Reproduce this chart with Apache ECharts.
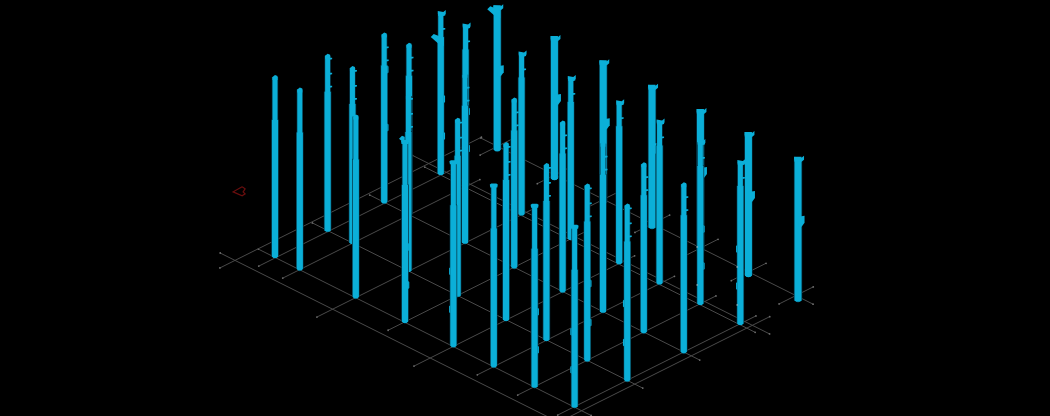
<!DOCTYPE html>
<html>
<head>
<meta charset="utf-8">
<style>html,body{margin:0;padding:0;background:#000}#c{width:1050px;height:416px}</style>
<script src="https://cdn.jsdelivr.net/npm/echarts@6/dist/echarts.min.js"></script>
</head>
<body>
<div id="c"></div>
<script>
// Ground positions of the column rows (logical plan units)
const uRows = [0, 0.94, 1.95, 2.96, 3.89];
const vStations = [0, 0.62, 2.02, 3.25, 4.46, 5.47, 6.49, 7.49];
const vStationsBack = [0.11, 0.71, 1.54, 2.76, 3.98, 5.19, 6.39, 7.63];
// Column heights (one list per row, one value per station)
const heightsU0 = [18.3, 18.3, 18.4, 18.3, 18.7, 18.4, 18.4, 18.3];
const heightsU1 = [17.8, 17.8, 17.8, 17.9, 17.9, 17.8, 17.8, 17.8];
const heightsU2 = [17.1, 17.3, 17.1, 17.1, 17.2, 17.1, 17.1, 17.1];
const heightsU3 = [16.4, 16.4, 16.4, 16.4, 16.4, 16.5, 16.5, 16.5];
const heightsU4 = [14.6, null, 14.4, 14.4, 14.4, 14.4, 14.5, 14.5];
// Length of the slim upper part of a column, per row
const slimTop = [4.5, 3.8, 3.3, 2.6, 0];
// Small tabs below the column head, per row
const tabDrops = [[], [0.5, 2.0, 3.3], [1.5, 2.8], [0.4, 1.8], []];
// Bumps on the shaft, per row (height above ground)
const bumpHeights = [[7.6, 3.8], [7.8, 3.9], [13.4, 7.6], [7.6, 3.9], [8.0]];
const bumpedColumns = ['0,3', '0,4', '0,6', '0,7', '1,6', '1,7', '2,0', '3,0', '3,1', '3,6', '3,7', '4,0', '4,2', '4,3', '4,4', '4,5', '4,6', '4,7'];
const dotHeights = [[], [], [], [5.8, 2.0], []];
const wingDrops = { '3,0': 2.4, '4,0': 0.2, '2,1': 9.4 };
const leftBumps = ['0,4', '0,7', '1,7', '3,7'];
// Ground lines: [fixed, from, to]
const linesAlongV = [
  [-0.40, -0.81, 8.4], [0.01, -0.43, 7.89], [0.96, -0.41, 7.85], [1.97, -0.39, 7.86],
  [2.96, -0.40, 7.86], [3.06, -0.85, 8.08], [3.98, -0.43, 7.88]
];
const linesAlongU = [
  [-0.44, -0.67, 4.0], [0, -0.29, 3.23], [0.6, -0.29, 3.23], [2.0, -0.68, 3.25],
  [3.22, -0.28, 3.25], [4.44, -0.69, 3.25], [5.45, -0.28, 3.24], [6.46, -0.28, 3.26],
  [7.46, -0.28, 3.26], [7.65, -0.68, 3.37],
  [-0.01, 3.67, 4.29], [1.42, 3.67, 4.29], [2.64, 3.67, 4.29], [3.86, 3.67, 4.29],
  [5.07, 3.67, 4.29], [6.27, 3.67, 4.29], [7.45, 3.68, 4.29]
];
const markerSpot = [0.87, -2.09];

const heights = [heightsU0, heightsU1, heightsU2, heightsU3, heightsU4];
const fill = '#0bafd8', edge = '#062f3e', lineCol = '#4a4a4a';

function project(u, v, z) {
  return [275 + 56 * u + 40 * v, 258 - 28 * u + 20 * v - (z || 0) * 10];
}

const columns = [];
heights.forEach(function (row, ui) {
  row.forEach(function (h, vi) {
    if (h == null) return;
    const v = (ui === 4 ? vStationsBack : vStations)[vi];
    columns.push([uRows[ui], v, h, ui, vi]);
  });
});
columns.sort(function (a, b) { return project(a[0], a[1])[1] - project(b[0], b[1])[1]; });

const groundLines = [];
linesAlongV.forEach(function (l) { groundLines.push([l[0], l[1], l[0], l[2]]); });
linesAlongU.forEach(function (l) { groundLines.push([l[1], l[0], l[2], l[0]]); });

function poly(points, color) {
  return { type: 'polygon', shape: { points: points }, style: { fill: color } };
}
function renderColumn(params, api) {
  const u = api.value(0), v = api.value(1), h = api.value(2), ui = api.value(3), vi = api.value(4);
  const at = function (z) { return api.coord(project(u, v, z)); };
  const b = at(0), t = at(h), x = b[0];
  const W = ui === 4 ? 3.5 : 3.1, n = ui === 4 ? W : 2.5;
  const s = at(h - slimTop[ui]);
  const c = [];
  // dark outline
  c.push(poly([[x - W - 0.7, b[1] - 2], [x - W - 0.7, s[1]], [x - n - 0.7, s[1] - 1], [x - n - 0.7, t[1] + 2], [x + n + 0.7, t[1] + 2], [x + n + 0.7, s[1] - 1], [x + W + 0.7, s[1]], [x + W + 0.7, b[1] - 2], [x, b[1] + 1]], edge));
  // lower and slim parts
  c.push(poly([[x - W, b[1] - 1.5], [x - W, s[1]], [x + W, s[1]], [x + W, b[1] - 1.5], [x + W - 1.5, b[1]], [x - W + 1.5, b[1]]], fill));
  if (n !== W) c.push(poly([[x - n, s[1] + 1], [x - n, t[1] + 2], [x + n, t[1] + 2], [x + n, s[1] + 1]], fill));
  // head: tabbed on the two back rows, plain point on the others
  if (ui >= 3) {
    const hw = ui === 4 ? W : n;
    c.push(poly([[x - hw - 0.5, t[1] + 2], [x - hw - 0.5, t[1]], [x + hw, t[1] + 1], [x + hw + 2.5, t[1] - 1], [x + hw + 2.5, t[1] + 3], [x + hw, t[1] + 5], [x - hw, t[1] + 5]], fill));
  } else if (ui === 0 && vi >= 3) {
    c.push(poly([[x - n - 1.5, t[1] + 1], [x - n, t[1]], [x + n, t[1]], [x + n + 1.5, t[1] + 1], [x + n + 1, t[1] + 4], [x - n - 1, t[1] + 4]], fill));
  } else {
    c.push(poly([[x - n, t[1] + 2], [x, t[1]], [x + n, t[1] + 1], [x + n, t[1] + 5], [x - n, t[1] + 5]], fill));
  }
  // tabs
  tabDrops[ui].forEach(function (d) {
    const y = at(h - d)[1];
    c.push(poly([[x + n - 0.5, y - 1], [x + n + 2, y - 1], [x + n + 2, y + 0.5], [x + n - 0.5, y + 1]], fill));
  });
  // bumps
  const side = leftBumps.indexOf(ui + ',' + vi) >= 0 ? -1 : 1;
  if (bumpedColumns.indexOf(ui + ',' + vi) >= 0) bumpHeights[ui].forEach(function (z) {
    const y = at(z)[1];
    if (ui === 4) {
      c.push(poly([[x, y - 5], [x + W + 3, y - 6], [x + W + 3, y + 1], [x + W, y + 5], [x, y + 5]], fill));
    } else {
      c.push(poly([[x + side * W, y - 4], [x + side * (W + 1.2), y - 3], [x + side * (W + 1.2), y + 3], [x + side * W, y + 4]], fill));
    }
  });
  if (vi >= 6) dotHeights[ui].forEach(function (z) {
    c.push({ type: 'circle', shape: { cx: x - W, cy: at(z)[1], r: 0.9 }, style: { fill: '#7fa8b4' } });
  });
  // wings
  const wd = wingDrops[ui + ',' + vi];
  if (wd != null) {
    const y = at(h - wd)[1];
    c.push(poly([[x - 10, y + 2], [x - 7, y - 1], [x + 3, y + 3], [x + 3, y + 11], [x - 2, y + 9]], fill));
  }
  return { type: 'group', children: c };
}
function renderLine(params, api) {
  const a = api.coord(project(api.value(0), api.value(1)));
  const b = api.coord(project(api.value(2), api.value(3)));
  return {
    type: 'group', children: [
      { type: 'line', shape: { x1: a[0], y1: a[1], x2: b[0], y2: b[1] }, style: { stroke: lineCol, lineWidth: 1 } },
      { type: 'circle', shape: { cx: a[0], cy: a[1], r: 0.9 }, style: { fill: '#6e6e6e' } },
      { type: 'circle', shape: { cx: b[0], cy: b[1], r: 0.9 }, style: { fill: '#6e6e6e' } }
    ]
  };
}
function renderMarker(params, api) {
  const p = api.coord(project(api.value(0), api.value(1)));
  const x = p[0], y = p[1];
  return {
    type: 'polyline',
    shape: { points: [[x + 2, y - 5], [x - 7, y], [x + 2, y + 4], [x + 5, y + 2], [x + 3, y], [x + 5, y - 3], [x + 2, y - 5]] },
    style: { stroke: '#6a0e0e', fill: null, lineWidth: 1.2 }
  };
}
const chart = echarts.init(document.getElementById('c'), null, { renderer: 'canvas' });
chart.setOption({
  backgroundColor: '#000',
  animation: false,
  grid: { left: 0, right: 0, top: 0, bottom: 0 },
  xAxis: { type: 'value', min: 0, max: 1050, show: false },
  yAxis: { type: 'value', min: 0, max: 416, inverse: true, show: false },
  series: [
    { type: 'custom', coordinateSystem: 'cartesian2d', renderItem: renderLine, data: groundLines, z: 1, silent: true, clip: true },
    { type: 'custom', coordinateSystem: 'cartesian2d', renderItem: renderMarker, data: [markerSpot], z: 2, silent: true },
    { type: 'custom', coordinateSystem: 'cartesian2d', renderItem: renderColumn, data: columns, z: 3, silent: true }
  ]
});
</script>
</body>
</html>
